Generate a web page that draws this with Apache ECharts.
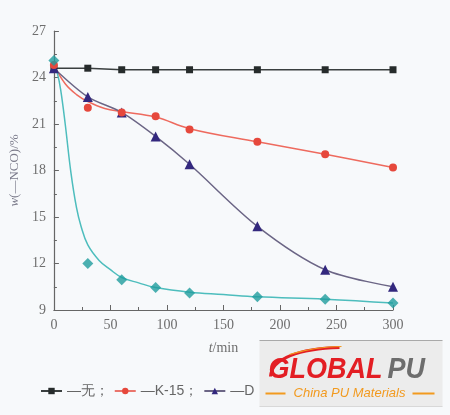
<!DOCTYPE html>
<html><head><meta charset="utf-8">
<script src="https://cdn.jsdelivr.net/npm/echarts@6/dist/echarts.min.js"></script>
<style>html,body{margin:0;padding:0;background:#fff}#c{width:450px;height:415px}</style>
</head><body><div id="c"></div>
<script>
// measured points
const times = [0, 30, 60, 90, 120, 180, 240, 300];
const noneVals = [24.6, 24.6, 24.5, 24.5, 24.5, 24.5, 24.5, 24.5];
const k15Vals = [24.8, 22.05, 21.75, 21.5, 20.65, 19.85, 19.05, 18.2];
const dVals = [24.6, 22.75, 21.75, 20.2, 18.4, 14.4, 11.6, 10.5];
const cyanVals = [25.1, 12.0, 10.95, 10.45, 10.1, 9.85, 9.7, 9.45];
// fitted curves
const k15FitT = [0, 10, 20, 30, 45, 60, 90, 120, 180, 240, 300];
const k15FitV = [24.8, 23.6, 22.9, 22.45, 22.0, 21.8, 21.45, 20.7, 19.85, 19.05, 18.2];
const cyanFitT = [0, 3, 6, 10, 15, 20, 24, 30, 40, 50, 60, 75, 90, 120, 150, 180, 240, 300];
const cyanFitV = [24.9, 24.3, 23.2, 21.0, 17.9, 15.6, 14.4, 13.2, 12.2, 11.6, 11.1, 10.75, 10.45, 10.15, 10.0, 9.85, 9.7, 9.45];
const xTicks = [0, 50, 100, 150, 200, 250, 300];
const yTicks = [9, 12, 15, 18, 21, 24, 27];
const names = ['—无；', '—K-15；', '—D'];

const pair = (t, v) => t.map((x, i) => [x, v[i]]);
const C = {black: '#262b2b', red: '#e6483c', purple: '#33287e', purpleLine: '#6b6585', cyan: '#1f9c9e', cyanLine: '#4dbdbd'};

const chart = echarts.init(document.getElementById('c'));
const axisTxt = {color: '#6e6e6e', fontFamily: 'Liberation Serif', fontSize: 14};
chart.setOption({
  backgroundColor: '#f7f9fb',
  animation: false,
  grid: {left: 53, right: 57, top: 31, bottom: 105, containLabel: false},
  xAxis: {
    type: 'value', min: 0, max: 300, interval: 50,
    name: '{i|t}/min', nameLocation: 'middle', nameGap: 31,
    nameTextStyle: {color: '#6e6e6e', fontFamily: 'Liberation Serif', fontSize: 14, rich: {i: {fontStyle: 'italic', fontFamily: 'Liberation Serif', fontSize: 14, color: '#6e6e6e'}}},
    axisLine: {lineStyle: {color: '#666', width: 1.2}},
    axisTick: {inside: true, length: 5, lineStyle: {color: '#666'}},
    minorTick: {show: true, splitNumber: 2, length: 3, lineStyle: {color: '#666'}},
    axisLabel: Object.assign({margin: 8, formatter: v => xTicks.includes(v) ? String(v) : ''}, axisTxt),
    splitLine: {show: false}
  },
  yAxis: {
    type: 'value', min: 9, max: 27, interval: 3,
    name: '{i|w}(—NCO)/%', nameLocation: 'middle', nameGap: 31, nameRotate: 90,
    nameTextStyle: {color: '#7a7a8a', fontFamily: 'Liberation Serif', fontSize: 13, rich: {i: {fontStyle: 'italic', fontFamily: 'Liberation Serif', fontSize: 13, color: '#7a7a8a'}}},
    axisLine: {show: true, lineStyle: {color: '#666', width: 1.2}},
    axisTick: {inside: true, length: 5, lineStyle: {color: '#666'}},
    minorTick: {show: true, splitNumber: 2, length: 3, lineStyle: {color: '#666'}},
    axisLabel: Object.assign({margin: 8, formatter: v => yTicks.includes(v) ? String(v) : ''}, axisTxt),
    splitLine: {show: false}
  },
  legend: {
    left: 35, top: 379, itemWidth: 21, itemHeight: 8, itemGap: 5,
    textStyle: {color: '#666', fontFamily: 'Liberation Sans', fontSize: 14},
    data: [
      {name: names[0]},
      {name: names[1], lineStyle: {color: C.red, width: 1.5, opacity: 1}},
      {name: names[2]}
    ]
  },
  series: [
    {name: names[0], type: 'line', data: pair(times, noneVals), symbol: 'rect', symbolSize: 7,
      itemStyle: {color: C.black}, lineStyle: {color: '#3a3f3f', width: 1.5}, z: 3},
    {name: 'k15fit', type: 'line', data: pair(k15FitT, k15FitV), smooth: 0.4, showSymbol: false,
      lineStyle: {color: '#ee6a5e', width: 1.5}, itemStyle: {color: C.red}, z: 2, silent: true},
    {name: names[1], type: 'line', data: pair(times, k15Vals), symbol: 'circle', symbolSize: 8,
      itemStyle: {color: C.red}, lineStyle: {color: C.red, width: 0, opacity: 0}, z: 4},
    {name: names[2], type: 'line', data: pair(times, dVals), smooth: 0.3, symbol: 'triangle', symbolSize: 10,
      itemStyle: {color: C.purple}, lineStyle: {color: C.purpleLine, width: 1.5}, z: 3},
    {name: 'cyanfit', type: 'line', data: pair(cyanFitT, cyanFitV), smooth: 0.4, showSymbol: false,
      lineStyle: {color: C.cyanLine, width: 1.5}, z: 2, silent: true},
    {name: 'cyan', type: 'scatter', data: pair(times, cyanVals), symbol: 'diamond', symbolSize: 11,
      itemStyle: {color: C.cyan}, z: 4}
  ],
  graphic: [{
    type: 'group', left: 257, top: 338, z: 100,
    children: [
      {type: 'rect', shape: {x: 0, y: 0, width: 183, height: 66}, style: {fill: '#ececec'}},
      {type: 'line', shape: {x1: 0, y1: 0, x2: 183, y2: 0}, style: {stroke: '#a9a9a9', lineWidth: 1}},
      {type: 'line', shape: {x1: 0, y1: 66, x2: 183, y2: 66}, style: {stroke: '#d8d8d8', lineWidth: 1}},
      {type: 'bezierCurve', shape: {x1: 11, y1: 36, cpx1: 12, cpy1: 18, cpx2: 40, cpy2: 8, x2: 80, y2: 7},
        style: {stroke: '#e31e24', lineWidth: 3, fill: null}},
      {type: 'bezierCurve', shape: {x1: 30, y1: 14, cpx1: 50, cpy1: 8, cpx2: 70, cpy2: 6, x2: 82, y2: 6},
        style: {stroke: '#f29a1f', lineWidth: 1.2, fill: null}},
      {type: 'text', x: 9, y: 14, scaleX: 0.9, style: {x: 0, y: 0, text: 'GLOBAL', fill: '#e31e24', font: 'italic bold 30px "Liberation Sans"'}},
      {type: 'text', x: 128, y: 14, scaleX: 0.9, style: {x: 0, y: 0, text: 'PU', fill: '#6d6d6d', font: 'italic bold 30px "Liberation Sans"'}},
      {type: 'line', shape: {x1: 6, y1: 53, x2: 26, y2: 53}, style: {stroke: '#f29a1f', lineWidth: 2}},
      {type: 'line', shape: {x1: 153, y1: 53, x2: 175, y2: 53}, style: {stroke: '#f29a1f', lineWidth: 2}},
      {type: 'text', style: {x: 90, y: 46, text: 'China PU Materials', align: 'center', fill: '#f29a1f', font: 'italic 13px "Liberation Sans"'}}
    ]
  }]
});
</script></body></html>
